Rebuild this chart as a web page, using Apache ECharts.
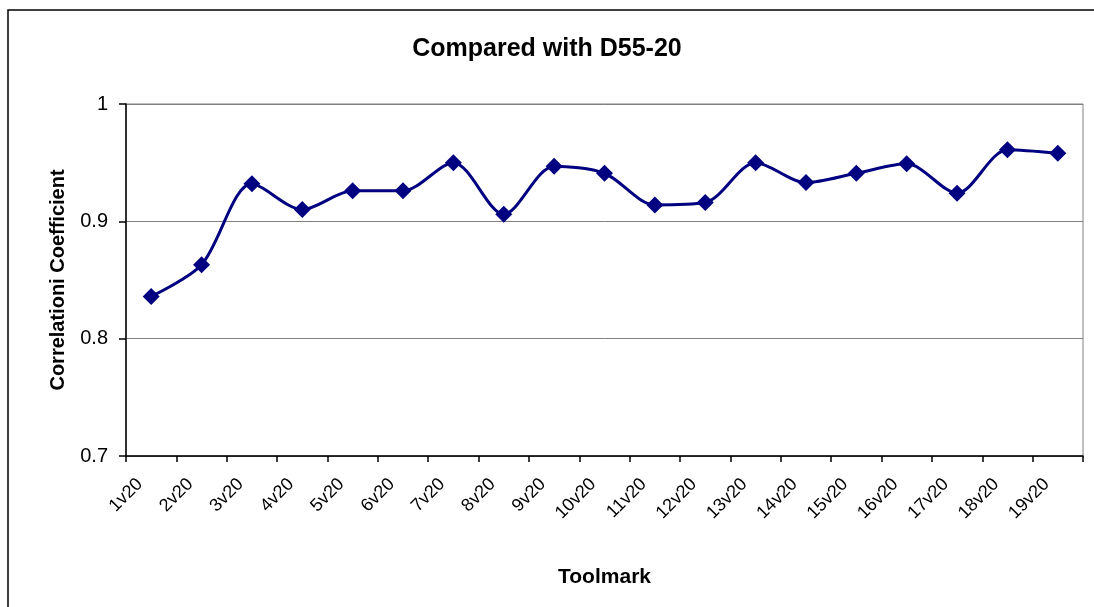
<!DOCTYPE html>
<html>
<head>
<meta charset="utf-8">
<script src="https://cdn.jsdelivr.net/npm/echarts@6/dist/echarts.min.js"></script>
<style>
html,body{margin:0;padding:0;background:#fff;}
#chart{width:1094px;height:607px;}
</style>
</head>
<body>
<div id="chart"></div>
<script>
const categories = ['1v20','2v20','3v20','4v20','5v20','6v20','7v20','8v20','9v20','10v20','11v20','12v20','13v20','14v20','15v20','16v20','17v20','18v20','19v20'];
const correlation = [0.836,0.863,0.932,0.910,0.926,0.926,0.950,0.906,0.947,0.941,0.914,0.916,0.950,0.933,0.941,0.949,0.924,0.961,0.958];
const yTicks = [0.7,0.8,0.9,1.0];
const chartTitle = 'Compared with D55-20';
const xTitle = 'Toolmark';
const yTitle = 'Correlationi Coefficient';

const chart = echarts.init(document.getElementById('chart'), null, {renderer:'canvas'});
const font = '"Liberation Sans", Arial, sans-serif';
chart.setOption({
  backgroundColor:'#ffffff',
  animation:false,
  graphic:[{
    type:'rect', silent:true, z:-1,
    shape:{x:8, y:10, width:1200, height:700},
    style:{fill:'none', stroke:'#000', lineWidth:1.5}
  }],
  title:{
    text:chartTitle, left:'center', top:32,
    textStyle:{fontFamily:font, fontSize:25, fontWeight:'bold', color:'#000'}
  },
  grid:{left:126, right:11, top:104, bottom:151, show:true, borderColor:'#808080', borderWidth:1, backgroundColor:'transparent'},
  xAxis:{
    type:'category', data:categories, boundaryGap:true,
    name:xTitle, nameLocation:'middle', nameGap:111,
    nameTextStyle:{fontFamily:font, fontSize:21, fontWeight:'bold', color:'#000'},
    axisLine:{lineStyle:{color:'#000', width:1.5}},
    axisTick:{show:true, length:6, inside:false, alignWithLabel:false, lineStyle:{color:'#000', width:1.5}},
    axisLabel:{rotate:45, margin:14, interval:0, fontFamily:font, fontSize:18, color:'#000', padding:[0,16,0,0]},
    splitLine:{show:false}
  },
  yAxis:{
    type:'value', min:0.7, max:1.0, interval:0.1,
    name:yTitle, nameLocation:'middle', nameGap:58,
    nameTextStyle:{fontFamily:font, fontSize:20, fontWeight:'bold', color:'#000'},
    axisLine:{show:true, lineStyle:{color:'#000', width:1.5}},
    axisTick:{show:true, length:7, lineStyle:{color:'#000', width:1.5}},
    axisLabel:{margin:18, fontFamily:font, fontSize:20, color:'#000',
      formatter:function(v){ const t = yTicks.find(x=>Math.abs(x-v)<1e-9); return t===1?'1':String(+v.toFixed(1)); }},
    splitLine:{show:true, lineStyle:{color:'#808080', width:1}}
  },
  series:[{
    type:'line', data:correlation, smooth:0.3,
    symbol:'diamond', symbolSize:17,
    lineStyle:{color:'#000080', width:3},
    itemStyle:{color:'#000080'}
  }]
});
</script>
</body>
</html>
